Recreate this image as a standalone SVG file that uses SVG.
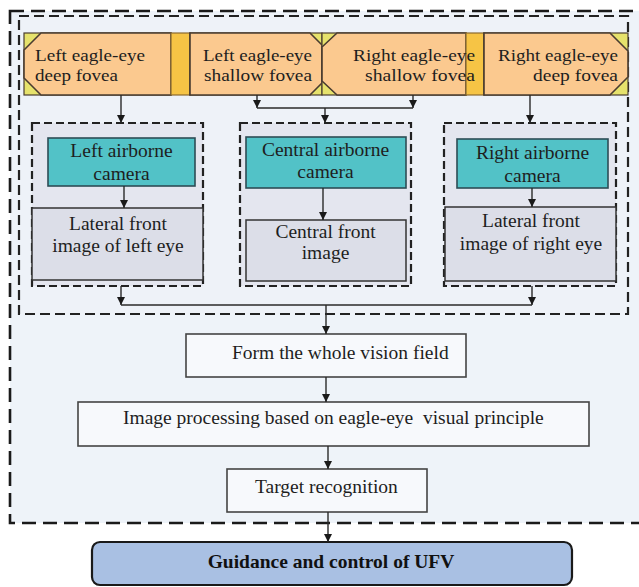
<svg xmlns="http://www.w3.org/2000/svg" width="639" height="587" viewBox="0 0 639 587">
  <style>
    .t { font-family: "Liberation Serif", "Times New Roman", serif; font-size: 19.5px; fill: #1e1e1e; }
    .f { font-family: "Liberation Serif", "Times New Roman", serif; font-size: 17.5px; fill: #1e1e1e; }
    .tb { font-family: "Liberation Serif", "Times New Roman", serif; font-size: 19.5px; font-weight: bold; fill: #111; }
    .c { text-anchor: middle; }
    .e { text-anchor: end; }
    .fov { fill: #fbc98f; stroke: #4a3c30; stroke-width: 1.6; }
    .tri { fill: #e6e26c; stroke: #4a3c30; stroke-width: 1.2; }
    .strip { fill: #f6c445; stroke: #8a6a30; stroke-width: 1.2; }
    .grp { fill: #e4e6ef; stroke: #222; stroke-width: 2.2; stroke-dasharray: 8 4; }
    .cam { fill: #52c2c7; stroke: #2d4d55; stroke-width: 1.6; }
    .img { fill: #dcdee8; stroke: #333; stroke-width: 1.5; }
    .step { fill: #f7f9fc; stroke: #444; stroke-width: 1.6; }
    .ln { fill: none; stroke: #2a2a2a; stroke-width: 1.4; }
  </style>
  <defs>
    <marker id="ah" markerUnits="userSpaceOnUse" markerWidth="9" markerHeight="9" refX="8" refY="4" orient="auto">
      <path d="M0,0 L8,4 L0,8 z" fill="#1a1a1a"/>
    </marker>
  </defs>

  <rect width="639" height="587" fill="#ffffff"/>

  <!-- outer frame: vision system -->
  <rect id="frame-outer" x="10" y="11" width="660" height="512" fill="#eef3f9" stroke="#1a1a1a" stroke-width="2.6" stroke-dasharray="14 7"/>
  <!-- inner frame: fovea and cameras -->
  <rect id="frame-inner" x="19" y="16" width="609" height="298" fill="#eef2f8" stroke="#222" stroke-width="2.2" stroke-dasharray="10 5"/>

  <!-- fovea row -->
  <g id="left-deep-fovea">
    <rect class="tri" x="24" y="33" width="147" height="62"/>
    <polygon class="fov" points="41,33 171,33 171,95 41,95 24,78 24,50"/>
    <text class="f" x="35" y="61" textLength="110" lengthAdjust="spacingAndGlyphs">Left eagle-eye</text>
    <text class="f" x="35" y="81" textLength="83" lengthAdjust="spacingAndGlyphs">deep fovea</text>
  </g>
  <g id="left-strip">
    <rect class="strip" x="171" y="33" width="19" height="62"/>
  </g>
  <g id="left-shallow-fovea">
    <rect class="tri" x="190" y="33" width="132" height="62"/>
    <polygon class="fov" points="190,33 310,33 322,45 322,83 310,95 190,95"/>
    <text class="f" x="203" y="61" textLength="109" lengthAdjust="spacingAndGlyphs">Left eagle-eye</text>
    <text class="f" x="204" y="81" textLength="108" lengthAdjust="spacingAndGlyphs">shallow fovea</text>
  </g>
  <g id="right-shallow-fovea">
    <rect class="tri" x="322" y="33" width="144" height="62"/>
    <polygon class="fov" points="337,33 466,33 466,95 337,95 322,81 322,47"/>
  </g>
  <g id="right-strip">
    <rect class="strip" x="466" y="33" width="18" height="62"/>
  </g>
  <g id="right-deep-fovea">
    <rect class="tri" x="484" y="33" width="144" height="62"/>
    <polygon class="fov" points="484,33 610,33 628,51 628,77 610,95 484,95"/>
    <text class="f" x="498" y="61" textLength="120" lengthAdjust="spacingAndGlyphs">Right eagle-eye</text>
    <text class="f" x="533" y="81" textLength="85" lengthAdjust="spacingAndGlyphs">deep fovea</text>
  </g>
  <g id="right-shallow-fovea-label">
    <text class="f" x="353" y="61" textLength="122" lengthAdjust="spacingAndGlyphs">Right eagle-eye</text>
    <text class="f" x="365" y="81" textLength="110" lengthAdjust="spacingAndGlyphs">shallow fovea</text>
  </g>

  <!-- camera groups -->
  <g id="left-camera-group">
    <rect class="grp" x="32" y="123" width="171" height="163"/>
    <rect class="img" x="32" y="208" width="171" height="72"/>
    <rect class="cam" x="48" y="138" width="147" height="48"/>
    <text class="t c" x="121.5" y="157">Left airborne</text>
    <text class="t c" x="121.5" y="180">camera</text>
    <text class="t c" x="118" y="230">Lateral front</text>
    <text class="t c" x="118" y="252">image of left eye</text>
  </g>
  <g id="central-camera-group">
    <rect class="grp" x="240" y="123" width="171" height="163"/>
    <rect class="img" x="246" y="220" width="160" height="61"/>
    <rect class="cam" x="246" y="137" width="160" height="51"/>
    <text class="t c" x="325.5" y="156">Central airborne</text>
    <text class="t c" x="325.5" y="178">camera</text>
    <text class="t c" x="325.5" y="238">Central front</text>
    <text class="t c" x="325.5" y="259">image</text>
  </g>
  <g id="right-camera-group">
    <rect class="grp" x="444" y="123" width="172" height="163"/>
    <rect class="img" x="445" y="207" width="171" height="74"/>
    <rect class="cam" x="457" y="139" width="151" height="49"/>
    <text class="t c" x="532.5" y="159">Right airborne</text>
    <text class="t c" x="532.5" y="182">camera</text>
    <text class="t c" x="531" y="227">Lateral front</text>
    <text class="t c" x="531" y="250">image of right eye</text>
  </g>

  <!-- processing chain -->
  <g id="vision-field">
    <rect class="step" x="186" y="334" width="280" height="43"/>
    <text class="t" x="232" y="359">Form the whole vision field</text>
  </g>
  <g id="image-processing">
    <rect class="step" x="78" y="402" width="511" height="44"/>
    <text class="t" x="123" y="424" xml:space="preserve">Image processing based on eagle-eye  visual principle</text>
  </g>
  <g id="target-recognition">
    <rect class="step" x="227" y="469" width="200" height="43"/>
    <text class="t" x="255" y="493">Target recognition</text>
  </g>
  <g id="guidance">
    <rect x="92" y="542" width="480" height="43" rx="8" fill="#a9c0e3" stroke="#1a1a1a" stroke-width="2.2"/>
    <text class="tb c" x="331" y="568">Guidance and control of UFV</text>
  </g>

  <!-- connectors -->
  <g id="connectors">
    <line class="ln" x1="121" y1="95" x2="121" y2="123" marker-end="url(#ah)"/>
    <line class="ln" x1="257" y1="95" x2="257" y2="108" marker-end="url(#ah)"/>
    <line class="ln" x1="413" y1="95" x2="413" y2="108" marker-end="url(#ah)"/>
    <line class="ln" x1="257" y1="108" x2="413" y2="108"/>
    <line class="ln" x1="325" y1="108" x2="325" y2="123" marker-end="url(#ah)"/>
    <line class="ln" x1="530" y1="95" x2="530" y2="123" marker-end="url(#ah)"/>

    <line class="ln" x1="124" y1="186" x2="124" y2="208" marker-end="url(#ah)"/>
    <line class="ln" x1="323" y1="188" x2="323" y2="220" marker-end="url(#ah)"/>
    <line class="ln" x1="532" y1="188" x2="532" y2="207" marker-end="url(#ah)"/>

    <line class="ln" x1="121" y1="286" x2="121" y2="305" marker-end="url(#ah)"/>
    <line class="ln" x1="532" y1="286" x2="532" y2="305" marker-end="url(#ah)"/>
    <line class="ln" x1="121" y1="305" x2="532" y2="305"/>
    <line class="ln" x1="326" y1="305" x2="326" y2="334" marker-end="url(#ah)"/>
    <line class="ln" x1="326" y1="377" x2="326" y2="402" marker-end="url(#ah)"/>
    <line class="ln" x1="328" y1="446" x2="328" y2="469" marker-end="url(#ah)"/>
    <line class="ln" x1="328" y1="512" x2="328" y2="542" marker-end="url(#ah)"/>
  </g>
</svg>
